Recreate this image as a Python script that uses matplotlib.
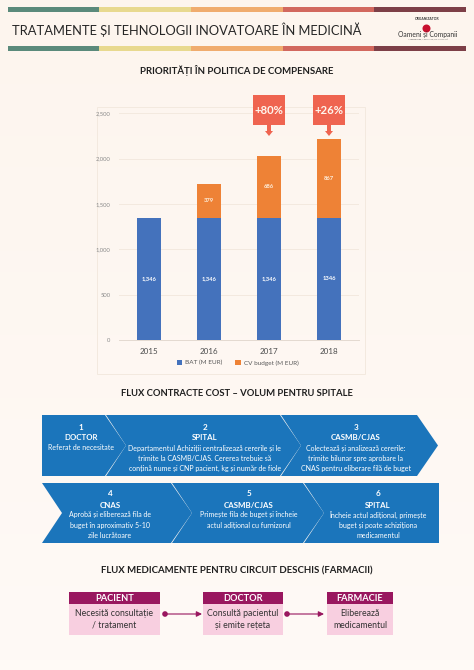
import matplotlib
matplotlib.use("Agg")
import matplotlib.pyplot as plt
import numpy as np
from matplotlib.patches import Polygon, Rectangle, Circle
from matplotlib.colors import LinearSegmentedColormap

plt.rcParams['font.family'] = ['Lato', 'DejaVu Sans']

years = ['2015', '2016', '2017', '2018']
bat = [1346, 1346, 1346, 1346]
cv = [0, 379, 686, 867]
bat_labels = ['1,346', '1,346', '1,346', '1346']
cv_labels = ['', '379', '686', '867']
callouts = {2: '+80%', 3: '+26%'}
y_ticks = [0, 500, 1000, 1500, 2000, 2500]
stripe_colors = ['#5B8A7B', '#E8D98F', '#F0AC6E', '#D2685E', '#7D3F47']

main_title = 'TRATAMENTE ȘI TEHNOLOGII INOVATOARE ÎN MEDICINĂ'
chart_title = 'PRIORITĂȚI ÎN POLITICA DE COMPENSARE'
flow1_title = 'FLUX CONTRACTE COST – VOLUM PENTRU SPITALE'
flow2_title = 'FLUX MEDICAMENTE PENTRU CIRCUIT DESCHIS (FARMACII)'

W, H = 474, 670
fig = plt.figure(figsize=(W/100, H/100), dpi=100)

def axes_px(x0, y0, x1, y1, **kw):
    return fig.add_axes([x0/W, 1-y1/H, (x1-x0)/W, (y1-y0)/H], **kw)

bg = fig.add_axes([0, 0, 1, 1], zorder=0)
cmap = LinearSegmentedColormap.from_list('bg', ['#FDF5EE', '#FFFAF6'])
bg.imshow(np.linspace(0, 1, 64).reshape(-1, 1), cmap=cmap, aspect='auto', extent=[0, W, H, 0])
bg.set_xlim(0, W); bg.set_ylim(H, 0); bg.axis('off')
bg.add_patch(Rectangle((97, 107), 268, 267, fc='none', ec='#F3E9DF', lw=0.7))

ax = axes_px(119, 113.3, 359, 340, zorder=1)
ax.patch.set_alpha(0)
x = np.arange(len(years))
ax.bar(x, bat, width=0.4, color='#4472BC', label='BAT (M EUR)', zorder=3)
ax.bar(x, cv, width=0.4, bottom=bat, color='#EE8236', label='CV budget (M EUR)', zorder=3)
for i in x:
    ax.text(i, bat[i]/2, bat_labels[i], ha='center', va='center', color='white', fontsize=4.2, fontweight='bold', zorder=4)
    if cv[i]:
        ax.text(i, bat[i]+cv[i]/2, cv_labels[i], ha='center', va='center', color='#FDF0E0', fontsize=4.2, fontweight='bold', zorder=4)
ax.set_xlim(-0.5, 3.5)
ax.set_ylim(0, 2500)
ax.set_yticks(y_ticks)
ax.set_yticklabels([f'{v:,}' for v in y_ticks], fontsize=4.2, color='#8A8A8A')
ax.set_xticks(x)
ax.set_xticklabels(years, fontsize=5.8, color='#595959', fontweight='medium')
ax.tick_params(length=0)
ax.tick_params(axis='y', pad=6)
ax.tick_params(axis='x', pad=6)
ax.grid(axis='y', color='#F3E9DF', lw=0.7, zorder=0)
for s in ['top', 'right', 'left']:
    ax.spines[s].set_visible(False)
ax.spines['bottom'].set_color('#E4DAD0')
ax.spines['bottom'].set_linewidth(0.7)
ax.legend(loc='center', bbox_to_anchor=(0.495, -0.1), ncol=2, frameon=False, fontsize=4.6,
          labelcolor='#595959', handlelength=0.8, handleheight=0.8, columnspacing=2.0, handletextpad=0.5)

ov = fig.add_axes([0, 0, 1, 1], zorder=2)
ov.patch.set_alpha(0)
ov.set_xlim(0, W); ov.set_ylim(H, 0); ov.axis('off')

# stripes
edges = [8, 99.5, 191, 283, 374, 466]
for y0 in (7.3, 46):
    for c, a, b in zip(stripe_colors, edges[:-1], edges[1:]):
        ov.add_patch(Rectangle((a, y0), b-a, 4.7, fc=c, ec='none'))

ov.text(12.5, 29.5, main_title, fontsize=9.3, color='#262626', va='center', ha='left')
ov.text(237, 71, chart_title, fontsize=6.9, fontweight='bold', color='#1F1F1F', va='center', ha='center')
ov.text(237, 393, flow1_title, fontsize=6.8, fontweight='bold', color='#1F1F1F', va='center', ha='center')
ov.text(237, 571, flow2_title, fontsize=6.9, fontweight='bold', color='#1F1F1F', va='center', ha='center')

# logo
ov.text(427, 19.5, 'ORGANIZATOR', fontsize=2.4, color='#333333', ha='center', va='center', fontweight='bold')
ov.add_patch(Circle((426.5, 28.5), 4, fc='#C8102E', ec='none'))
ov.text(428, 35, 'Oameni și Companii', fontsize=4.9, color='#333333', ha='center', va='center')
ov.text(428, 40, 'INTERPRETARE, INFORMAȚIE, CONSULTANȚĂ', fontsize=1.4, color='#555555', ha='center', va='center')

# callouts, centred on their bars
for i, txt in callouts.items():
    cx = ax.transData.transform((i, 0))[0]
    ov.add_patch(Polygon([(cx-16, 95), (cx+16, 95), (cx+16, 125), (cx+2, 125), (cx+2, 131), (cx+4, 131),
                          (cx, 136), (cx-4, 131), (cx-2, 131), (cx-2, 125), (cx-16, 125)],
                         fc='#EF6450', ec='none'))
    ov.text(cx, 110, txt, fontsize=8.2, fontweight='bold', color='#FFF6EE', ha='center', va='center')

# chevrons
BLUE = '#1B75BB'
r1t, r1b = 415, 476
r2t, r2b = 483, 543
rows = [
    [(r1t, r1b), [(42, 105, 0), (106, 280, 20), (281, 417, 20)], [21, 21, 21]],
    [(r2t, r2b), [(42, 171, 20), (172, 303, 20), (304, 439, 20)], [21, 21, 0]],
]
for (t, b), segs, tips in rows:
    m = (t+b)/2
    for (l, r, notch), tip in zip(segs, tips):
        pts = [(l, t), (r, t)]
        if tip:
            pts.append((r+tip, m))
        pts += [(r, b), (l, b)]
        if notch:
            pts.append((l+notch, m))
        ov.add_patch(Polygon(pts, fc=BLUE, ec='none'))

flow_num = ['1', '2', '3', '4', '5', '6']
flow_head = ['DOCTOR', 'SPITAL', 'CASMB/CJAS', 'CNAS', 'CASMB/CJAS', 'SPITAL']
flow_body = [
    ['Referat de necesitate'],
    ['Departamentul Achiziții centralizează cererile și le', 'trimite la CASMB/CJAS. Cererea trebuie să', 'conțină nume și CNP pacient, kg și număr de fiole'],
    ['Colectează și analizează cererile:', 'trimite bilunar spre aprobare la', 'CNAS pentru eliberare filă de buget'],
    ['Aprobă și eliberează fila de', 'buget în aproximativ 5-10', 'zile lucrătoare'],
    ['Primește fila de buget și încheie', 'actul adițional cu furnizorul'],
    ['Încheie actul adițional, primește', 'buget și poate achiziționa', 'medicamentul'],
]
cxs = [81, 205, 356, 110, 249, 378]
ys = [427, 427, 427, 494, 494, 494]
for n, h, body, cx, y in zip(flow_num, flow_head, flow_body, cxs, ys):
    ov.text(cx, y, n, fontsize=5.9, fontweight='bold', color='white', ha='center', va='center')
    ov.text(cx, y+11, h, fontsize=5.7, fontweight='bold', color='white', ha='center', va='center')
    for k, line in enumerate(body):
        ov.text(cx, y+21+k*10.2, line, fontsize=5.0, color='white', ha='center', va='center')

# bottom flow
PURPLE = '#99175F'
PINK = '#F8CFE0'
boxes = [(69, 160), (203, 283), (327, 393)]
box_head = ['PACIENT', 'DOCTOR', 'FARMACIE']
box_body = [['Necesită consultație', '/ tratament'], ['Consultă pacientul', 'și emite rețeta'], ['Eliberează', 'medicamentul']]
for (l, r), h, body in zip(boxes, box_head, box_body):
    ov.add_patch(Rectangle((l, 604), r-l, 31, fc=PINK, ec='none'))
    ov.add_patch(Rectangle((l, 592), r-l, 12, fc=PURPLE, ec='none'))
    c = (l+r)/2
    ov.text(c, 598.2, h, fontsize=6.7, fontweight='bold', color='white', ha='center', va='center')
    ov.text(c, 613.5, body[0], fontsize=6.3, color='#333333', ha='center', va='center')
    ov.text(c, 625.5, body[1], fontsize=6.3, color='#333333', ha='center', va='center')

for a, b in [(165, 202), (287, 324)]:
    ov.annotate('', xy=(b, 614), xytext=(a, 614),
                arrowprops=dict(arrowstyle='-|>,head_width=0.16,head_length=0.32', color=PURPLE, lw=0.8, shrinkA=0, shrinkB=0))
    ov.add_patch(Circle((a, 614), 2.8, fc=PURPLE, ec='none'))

fig.savefig('out.png', dpi=100)
